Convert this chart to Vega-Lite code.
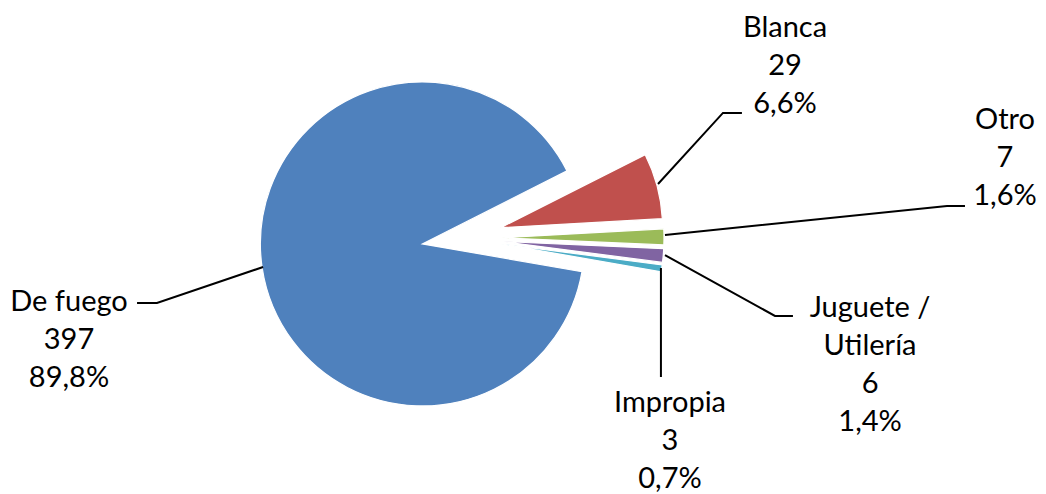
{
  "$schema": "https://vega.github.io/schema/vega-lite/v6.json",
  "width": 924,
  "height": 476,
  "autosize": {"type": "none"},
  "padding": {"left": 0, "top": 0, "right": 122, "bottom": 18},
  "background": "white",
  "config": {"view": {"stroke": null}},
  "layer": [
    {
      "data": {"values": [
        {"tipo": "Blanca", "n": 29, "orden": 1},
        {"tipo": "Otro", "n": 7, "orden": 2},
        {"tipo": "Juguete / Utilería", "n": 6, "orden": 3},
        {"tipo": "Impropia", "n": 3, "orden": 4},
        {"tipo": "De fuego", "n": 397, "orden": 5}
      ]},
      "transform": [
        {"stack": "n", "groupby": [], "sort": [{"field": "orden", "order": "ascending"}], "as": ["v0", "v1"]}
      ],
      "encoding": {
        "theta": {"field": "v0", "type": "quantitative", "stack": null, "scale": {"type": "linear", "domain": [0, 442], "range": [1.1031, 7.3863], "zero": false, "nice": false}},
        "theta2": {"field": "v1"},
        "color": {"field": "tipo", "type": "nominal", "legend": null,
          "scale": {"domain": ["De fuego", "Blanca", "Otro", "Juguete / Utilería", "Impropia"],
                    "range": ["#4F81BD", "#C0504D", "#9BBB59", "#8064A2", "#4BACC6"]}}
      },
      "layer": [
        {"transform": [{"filter": "datum.tipo === 'Blanca'"}],
         "mark": {"type": "arc", "outerRadius": 162, "xOffset": 38.6, "yOffset": -10.3, "stroke": "white", "strokeWidth": 1.2}},
        {"transform": [{"filter": "datum.tipo === 'Otro'"}],
         "mark": {"type": "arc", "outerRadius": 162, "xOffset": 40.0, "yOffset": -0.2, "stroke": "white", "strokeWidth": 1.2}},
        {"transform": [{"filter": "datum.tipo === 'Juguete / Utilería'"}],
         "mark": {"type": "arc", "outerRadius": 162, "xOffset": 39.85, "yOffset": 3.5, "stroke": "white", "strokeWidth": 1.2}},
        {"transform": [{"filter": "datum.tipo === 'Impropia'"}],
         "mark": {"type": "arc", "outerRadius": 162, "xOffset": 39.55, "yOffset": 6.0, "stroke": "white", "strokeWidth": 1.2}},
        {"transform": [{"filter": "datum.tipo === 'De fuego'"}],
         "mark": {"type": "arc", "outerRadius": 162, "xOffset": -39.6, "yOffset": 5.9, "stroke": "white", "strokeWidth": 1.2}}
      ]
    },
    {
      "data": {"values": [
        {"serie": "Blanca", "paso": 1, "x": 1.210, "y": 0.333},
        {"serie": "Blanca", "paso": 2, "x": 1.611, "y": 0.772},
        {"serie": "Blanca", "paso": 3, "x": 1.728, "y": 0.772},
        {"serie": "Otro", "paso": 1, "x": 1.253, "y": 0.0185},
        {"serie": "Otro", "paso": 2, "x": 2.994, "y": 0.1975},
        {"serie": "Otro", "paso": 3, "x": 3.105, "y": 0.1975},
        {"serie": "Juguete", "paso": 1, "x": 1.253, "y": -0.105},
        {"serie": "Juguete", "paso": 2, "x": 1.932, "y": -0.481},
        {"serie": "Juguete", "paso": 3, "x": 2.043, "y": -0.481},
        {"serie": "Impropia", "paso": 1, "x": 1.228, "y": -0.185},
        {"serie": "Impropia", "paso": 2, "x": 1.228, "y": -0.858},
        {"serie": "De fuego", "paso": 1, "x": -1.228, "y": -0.179},
        {"serie": "De fuego", "paso": 2, "x": -1.883, "y": -0.401},
        {"serie": "De fuego", "paso": 3, "x": -2.006, "y": -0.401}
      ]},
      "mark": {"type": "line", "color": "black", "strokeWidth": 2},
      "encoding": {
        "x": {"field": "x", "type": "quantitative", "axis": null, "scale": {"domain": [-2.852, 2.852], "nice": false, "zero": false}},
        "y": {"field": "y", "type": "quantitative", "axis": null, "scale": {"domain": [-1.469, 1.469], "nice": false, "zero": false}},
        "detail": {"field": "serie"},
        "order": {"field": "paso", "type": "quantitative"}
      }
    },
    {
      "data": {"values": [
        {"etiqueta": "Blanca\n29\n6,6%", "x": 1.994, "y": 1.296},
        {"etiqueta": "Otro\n7\n1,6%", "x": 3.352, "y": 0.728},
        {"etiqueta": "Juguete /\nUtilería\n6\n1,4%", "x": 2.519, "y": -0.432},
        {"etiqueta": "Impropia\n3\n0,7%", "x": 1.284, "y": -1.019},
        {"etiqueta": "De fuego\n397\n89,8%", "x": -2.426, "y": -0.395}
      ]},
      "mark": {"type": "text", "font": "Lato", "fontSize": 29, "lineHeight": 38, "lineBreak": "\n", "align": "center", "baseline": "middle", "color": "black"},
      "encoding": {
        "x": {"field": "x", "type": "quantitative", "axis": null, "scale": {"domain": [-2.852, 2.852], "nice": false, "zero": false}},
        "y": {"field": "y", "type": "quantitative", "axis": null, "scale": {"domain": [-1.469, 1.469], "nice": false, "zero": false}},
        "text": {"field": "etiqueta"}
      }
    }
  ]
}
